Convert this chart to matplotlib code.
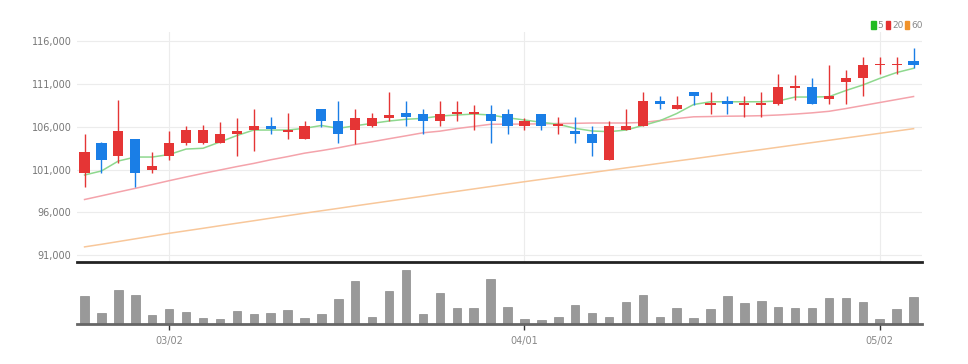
import numpy as np
import pandas as pd
import matplotlib
matplotlib.use("Agg")
import matplotlib.pyplot as plt
from matplotlib.patches import Rectangle

# dias de negociação (fev-mai), sem feriados
dates = pd.bdate_range("2022-02-22", "2022-05-04")
dates = dates[~dates.isin(pd.to_datetime(["2022-03-01", "2022-03-09"]))]

opens = [100600, 104100, 102600, 104500, 101000, 102600, 104100, 104100, 104100, 105100,
         105600, 106100, 105400, 104600, 108000, 106600, 105600, 106100, 107000, 107600,
         107500, 106600, 107400, 107400, 107500, 107500, 106100, 107500, 106100, 105500,
         105100, 102100, 105600, 106100, 109000, 108000, 110000, 108500, 109000, 108500,
         108500, 108600, 110500, 110600, 109200, 111200, 111600, 113100, 113100, 113600]
highs = [105100, 104200, 109100, 104500, 103000, 105500, 106100, 106200, 106500, 107000,
         108000, 107100, 107600, 106600, 108000, 109000, 108000, 107600, 110000, 109000,
         108000, 109000, 109000, 108500, 108500, 108000, 107000, 107500, 107100, 107100,
         106100, 106600, 108000, 110000, 109500, 109500, 110000, 110000, 109500, 109500,
         110000, 112100, 112000, 111600, 113200, 112600, 114100, 114100, 114100, 115100]
lows = [99000, 100600, 101800, 99000, 100600, 102100, 103800, 104000, 104100, 102600,
        103100, 105100, 104500, 104600, 106000, 104100, 104000, 106000, 106600, 106100,
        105100, 106100, 106600, 105600, 104100, 105100, 105600, 105600, 105100, 104100,
        102600, 102100, 105600, 106100, 108000, 108000, 108500, 107500, 107500, 107100,
        107100, 108500, 109100, 108600, 108600, 108600, 109600, 112100, 112100, 112800]
closes = [103000, 102100, 105500, 100600, 101400, 104100, 105600, 105600, 105100, 105500,
          106100, 105700, 105600, 106100, 106600, 105100, 107000, 107000, 107300, 107100,
          106600, 107500, 107700, 107700, 106600, 106100, 106600, 106100, 106300, 105100,
          104100, 106100, 106100, 109000, 108600, 108500, 109600, 108700, 108600, 108700,
          108700, 110600, 110700, 108600, 109600, 111600, 113100, 113200, 113200, 113200]
volumes = [280000, 107000, 343000, 290000, 90000, 150000, 123000, 60000, 50000, 130000,
           97000, 110000, 143000, 60000, 97000, 250000, 430000, 67000, 330000, 543000,
           97000, 313000, 160000, 160000, 455000, 167000, 47000, 37000, 73000, 193000,
           107000, 73000, 223000, 293000, 67000, 160000, 63000, 147000, 280000, 213000,
           230000, 173000, 163000, 157000, 263000, 263000, 223000, 50000, 147000, 273000]

ma5 = [100360, 100830, 101990, 102450, 102450, 102740, 103380, 103470, 104200, 104950,
       105590, 105590, 105590, 105790, 106120, 105790, 106090, 106370, 106640, 106840,
       106950, 107220, 107340, 107450, 107340, 107020, 106760, 106490, 106260, 105790,
       105480, 105400, 105590, 106120, 106670, 107510, 108560, 108880, 108880, 108880,
       108880, 108970, 109430, 109430, 109470, 110190, 110830, 111600, 112280, 112770]
ma20 = [97510, 97940, 98380, 98810, 99250, 99700, 100130, 100550, 100940, 101340,
        101710, 102130, 102500, 102900, 103200, 103530, 103910, 104230, 104580, 104920,
        105270, 105460, 105760, 106010, 106260, 106270, 106290, 106310, 106350, 106370,
        106410, 106410, 106410, 106470, 106700, 106930, 107130, 107160, 107200, 107220,
        107260, 107340, 107450, 107590, 107770, 108090, 108440, 108790, 109140, 109490]
ma60 = [92000, 92300, 92620, 92940, 93260, 93580, 93870, 94160, 94460, 94750,
        95040, 95340, 95630, 95920, 96200, 96480, 96770, 97050, 97330, 97610,
        97890, 98180, 98460, 98740, 99020, 99300, 99580, 99850, 100120, 100390,
        100650, 100920, 101190, 101450, 101720, 101990, 102250, 102520, 102790, 103060,
        103320, 103590, 103860, 104130, 104400, 104670, 104940, 105210, 105480, 105750]

ma_names = ["5", "20", "60"]
ma_legend_colors = ["#22bb22", "#e53030", "#f0922a"]
ma_line_colors = ["#8ed88e", "#f4a3ab", "#f8c79a"]

UP = "#e53535"
DOWN = "#1a7ee6"

df = pd.DataFrame({"open": opens, "high": highs, "low": lows, "close": closes,
                   "volume": volumes}, index=dates)
x = np.arange(len(df))
month = df.index.month
ticks = [i for i in range(1, len(df)) if month[i] != month[i - 1]]
tick_labels = [df.index[i].strftime("%m/%d") for i in ticks]

fig = plt.figure(figsize=(9.68, 3.64), dpi=100)
ax = fig.add_axes([0.0795, 0.2802, 0.873, 0.632])
axv = fig.add_axes([0.0795, 0.1099, 0.873, 0.1648])

# grade
yt = np.arange(91000, 116001, 5000)
ax.set_yticks(yt)
ax.set_yticklabels([f"{v:,}" for v in yt])
ax.grid(axis="y", color="#ececec", linewidth=0.8)
for t in ticks:
    ax.axvline(t, color="#ececec", linewidth=0.8, zorder=0)
ax.set_axisbelow(True)

# médias móveis
for vals, c in zip([ma60, ma20, ma5], ma_line_colors[::-1]):
    ax.plot(x, vals, color=c, linewidth=1.1, zorder=2)

# candles
up = df["close"] >= df["open"]
colors = np.where(up, UP, DOWN)
ax.vlines(x, df["low"], df["high"], colors=colors, linewidth=1.0, zorder=3)
body_bottom = np.minimum(df["open"], df["close"])
body_h = np.maximum((df["close"] - df["open"]).abs(), 220)
ax.bar(x, body_h, bottom=body_bottom, width=0.6, color=colors, zorder=4)

ax.set_xlim(-0.45, 49.5)
ax.set_ylim(90240, 117000)
for s in ["top", "right", "left"]:
    ax.spines[s].set_visible(False)
ax.spines["bottom"].set_color("#222222")
ax.spines["bottom"].set_linewidth(2)
ax.tick_params(axis="y", length=0, labelsize=7, colors="#777777", pad=4)
ax.tick_params(axis="x", length=0, labelbottom=False)

# legenda
lx = [0.900, 0.915, 0.935]
for (name, c, px) in zip(ma_names, ma_legend_colors, lx):
    fig.patches.append(Rectangle((px, 0.919), 0.0045, 0.022, transform=fig.transFigure,
                                 color=c))
    fig.text(px + 0.0065, 0.930, name, fontsize=6.5, color="#888888", va="center")

# volume
axv.bar(x, df["volume"], width=0.5, color="#999999", edgecolor="#8a8a8a", linewidth=0.5)
axv.set_xlim(-0.45, 49.5)
axv.set_ylim(0, 600000)
for s in ["top", "right", "left"]:
    axv.spines[s].set_visible(False)
axv.spines["bottom"].set_color("#666666")
axv.spines["bottom"].set_linewidth(2)
axv.set_yticks([])
axv.set_xticks(ticks)
axv.set_xticklabels(tick_labels)
axv.tick_params(axis="x", length=4, width=1, color="#333333", labelsize=7,
                labelcolor="#888888", pad=5)

fig.savefig("out.png", dpi=100, facecolor="white")
